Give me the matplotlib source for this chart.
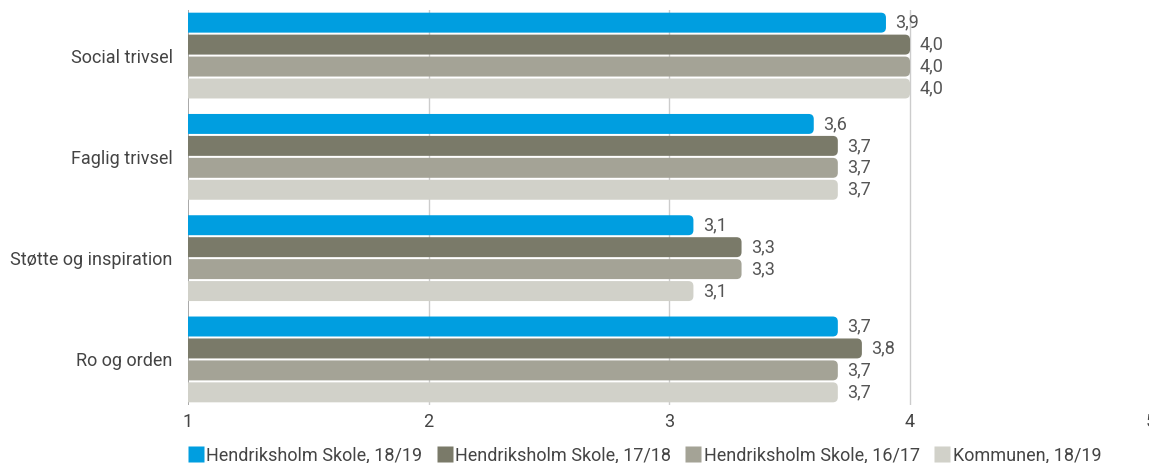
import matplotlib.pyplot as plt
from matplotlib.patches import FancyBboxPatch
from matplotlib.lines import Line2D

plt.rcParams['font.family'] = ['Roboto', 'DejaVu Sans']

categories = ["Social trivsel", "Faglig trivsel", "Støtte og inspiration", "Ro og orden"]
series = ["Hendriksholm Skole, 18/19", "Hendriksholm Skole, 17/18",
          "Hendriksholm Skole, 16/17", "Kommunen, 18/19"]
values = [
    [3.9, 3.6, 3.1, 3.7],
    [4.0, 3.7, 3.3, 3.8],
    [4.0, 3.7, 3.3, 3.7],
    [4.0, 3.7, 3.1, 3.7],
]
colors = ["#009EE0", "#7A7A69", "#A4A396", "#D1D1C9"]

fig = plt.figure(figsize=(11.49, 4.63), dpi=100)
ax = fig.add_axes([188 / 1149, 1 - 405 / 463, 962.7 / 1149, 395 / 463])
ax.set_xlim(1, 5)
ax.set_ylim(3.45, -0.45)

pitch = 0.2167
height = 0.197
r = 0.021
aspect = 240.7 / 101.7

for s, (vals, col) in enumerate(zip(values, colors)):
    for i, v in enumerate(vals):
        y = i + (s - 1.5) * pitch
        box = FancyBboxPatch((0.9, y - height / 2), v - 0.9, height,
                             boxstyle=f"round,pad=0,rounding_size={r}",
                             mutation_aspect=aspect, facecolor=col,
                             edgecolor="none", zorder=3)
        ax.add_patch(box)
        ax.text(v + 0.04, y, f"{v:.1f}".replace(".", ","), va="center",
                ha="left", fontsize=13, color="#555555", zorder=4)

for x in [2, 3, 4]:
    ax.axvline(x, color="#CCCCCC", lw=1, zorder=1)
ax.axvline(1, color="#999999", lw=1.2, zorder=1)

for sp in ax.spines.values():
    sp.set_visible(False)
ax.set_xticks([1, 2, 3, 4, 5])
ax.set_xticklabels(["1", "2", "3", "4", "5"])
ax.set_yticks(range(len(categories)))
ax.set_yticklabels(categories)
ax.tick_params(axis="both", length=0, labelsize=13, labelcolor="#444444")
ax.tick_params(axis="y", pad=11)
ax.tick_params(axis="x", pad=6)

handles = [Line2D([], [], marker="s", linestyle="none", markersize=11,
                  markerfacecolor=c, markeredgecolor="none") for c in colors]
fig.legend(handles, series, loc="lower left", bbox_to_anchor=(173 / 1149, -0.037),
           ncol=4, frameon=False, fontsize=13, handlelength=0.7,
           handletextpad=0.25, columnspacing=0.87, labelcolor="#444444")

fig.savefig("out.png", dpi=100)
